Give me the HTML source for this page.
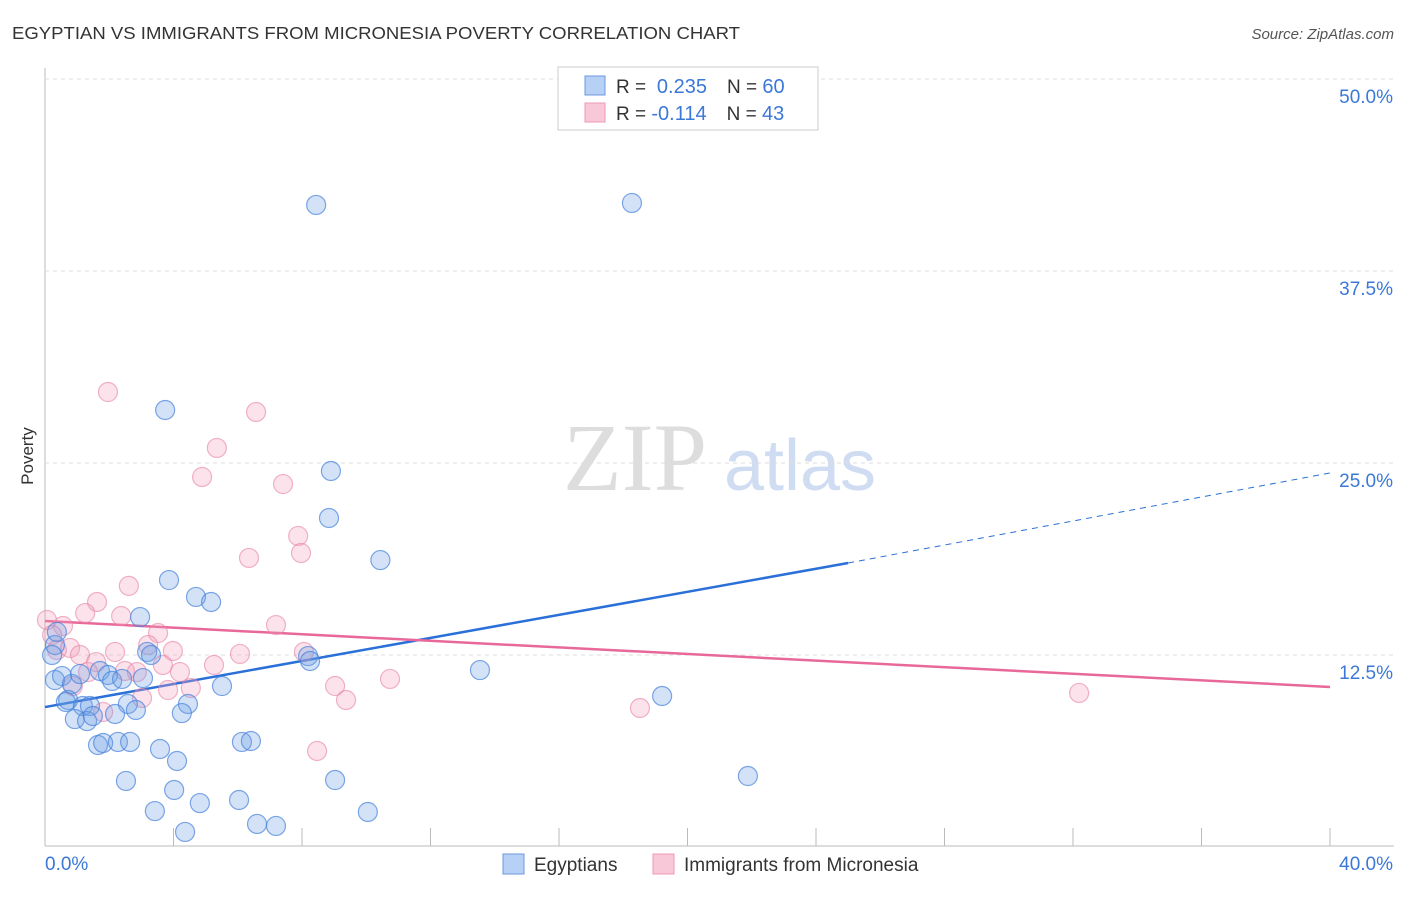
<!DOCTYPE html>
<html><head><meta charset="utf-8"><style>
body{margin:0;background:#fff;font-family:"Liberation Sans",sans-serif}
svg text{font-family:"Liberation Sans",sans-serif}
</style></head><body>
<svg id="chart" width="1406" height="892">
<text x="12" y="39" font-size="17.5" fill="#333" textLength="728" lengthAdjust="spacingAndGlyphs">EGYPTIAN VS IMMIGRANTS FROM MICRONESIA POVERTY CORRELATION CHART</text>
<text x="1394" y="39" font-size="15" fill="#555" font-style="italic" text-anchor="end">Source: ZipAtlas.com</text>
<text x="33" y="456" font-size="17" fill="#333" transform="rotate(-90 33 456)" text-anchor="middle">Poverty</text>
<g><text x="635" y="490" font-size="96" font-family="Liberation Serif" fill="#ddd" text-anchor="middle" style="font-family:'Liberation Serif',serif">ZIP</text><text x="800" y="490" font-size="72" fill="#cfdcf2" text-anchor="middle">atlas</text></g>
<g id="grid"></g><g id="trend"></g><g id="pts"></g>
<g>
<rect x="558" y="67" width="260" height="63" fill="#fff" stroke="#ccc"/>
<rect x="585" y="76" width="20" height="19" fill="#b7d0f5" stroke="#6b9ae0"/>
<rect x="585" y="103" width="20" height="19" fill="#f8c8d8" stroke="#ee9ab6"/>
<text x="616" y="93" font-size="19" fill="#333">R = <tspan fill="#3b78d8" font-size="20">&#160;0.235</tspan><tspan dx="20">N = </tspan><tspan fill="#3b78d8" font-size="20">60</tspan></text>
<text x="616" y="120" font-size="19" fill="#333">R = <tspan fill="#3b78d8" font-size="20">-0.114</tspan><tspan dx="20">N = </tspan><tspan fill="#3b78d8" font-size="20">43</tspan></text>
</g>
<g>
<rect x="503" y="854" width="21" height="20" fill="#b7d0f5" stroke="#6b9ae0"/>
<text x="534" y="871" font-size="19" fill="#333">Egyptians</text>
<rect x="653" y="854" width="21" height="20" fill="#f8c8d8" stroke="#ee9ab6"/>
<text x="684" y="871" font-size="19" fill="#333">Immigrants from Micronesia</text>
</g>
</svg>
<script>
const xTicks=[0,4,8,12,16,20,24,28,32,36,40];
const yTicks=[12.5,25,37.5,50];
const yTickLabels=["12.5%","25.0%","37.5%","50.0%"];
const blueX=[8.44,18.27,3.74,8.90,8.84,10.44,3.86,4.70,5.17,2.96,0.31,0.37,3.18,3.30,8.19,8.25,13.54,0.31,0.53,0.84,1.09,1.71,1.96,2.09,2.40,3.05,5.51,19.21,0.72,0.65,1.18,1.40,2.58,2.83,4.45,4.26,2.18,0.93,1.31,1.49,1.65,1.81,2.27,2.65,3.58,6.13,6.41,4.11,2.52,9.03,21.88,4.02,6.04,3.42,4.82,10.05,6.60,7.19,4.36,0.22];
const blueY=[41.80,41.93,28.45,24.48,21.42,18.68,17.38,16.28,15.95,14.97,13.15,14.00,12.70,12.50,12.43,12.11,11.52,10.87,11.13,10.61,11.26,11.46,11.20,10.81,10.94,11.00,10.48,9.83,9.57,9.44,9.18,9.18,9.31,8.92,9.31,8.72,8.66,8.33,8.20,8.53,6.64,6.77,6.84,6.84,6.38,6.84,6.90,5.60,4.30,4.36,4.62,3.71,3.06,2.34,2.86,2.28,1.50,1.37,0.98,12.50];
const pinkX=[1.96,6.57,5.35,4.89,7.41,7.88,7.97,6.35,2.61,1.62,1.25,2.37,0.06,0.56,3.52,7.19,0.22,3.21,0.37,0.78,1.09,2.18,3.98,6.07,8.06,1.59,2.49,2.86,3.67,4.20,5.26,10.74,1.34,0.87,3.83,4.54,9.03,9.37,32.19,18.52,1.81,3.02,8.47];
const pinkY=[29.62,28.32,25.98,24.09,23.63,20.25,19.14,18.82,17.0,15.95,15.23,15.04,14.78,14.39,13.93,14.45,13.80,13.15,12.83,12.96,12.50,12.70,12.76,12.57,12.70,12.04,11.46,11.39,11.85,11.39,11.85,10.94,11.39,10.48,10.22,10.35,10.48,9.57,10.03,9.05,8.79,9.70,6.25];
const blueTrend=[9.11,18.49,24.35]; // at x=0, 25, 40
const pinkTrend=[14.71,10.42]; // at x=0, 40
const NS="http://www.w3.org/2000/svg";
const X=v=>45+v*32.125, Y=v=>847-v*15.36;
function mk(tag,attrs,parent){const e=document.createElementNS(NS,tag);for(const k in attrs)e.setAttribute(k,attrs[k]);parent.appendChild(e);return e;}
const grid=document.getElementById('grid');
const ax=mk('line',{x1:45,y1:68,x2:45,y2:846,stroke:'#bbb'},grid);


const bx=mk('line',{x1:45,y1:846,x2:1394,y2:846,stroke:'#bbb'},grid);


yTicks.forEach((t,i)=>{
  const g=mk('line',{x1:45,y1:Y(t),x2:1394,y2:Y(t),stroke:'#ddd','stroke-dasharray':'4,4'},grid);
  
  
  const tx=mk('text',{x:1393,y:Y(t)+24,'font-size':19,fill:'#3b78d8','text-anchor':'end'},grid);
  tx.textContent=yTickLabels[i];
  
  
});
xTicks.forEach(t=>{
  const l=mk('line',{x1:X(t),y1:828,x2:X(t),y2:846,stroke:'#bbb'},grid);
  
  
});
const xl0=mk('text',{x:45,y:870,'font-size':19,fill:'#3b78d8'},grid);xl0.textContent='0.0%';


const xl1=mk('text',{x:1393,y:870,'font-size':19,fill:'#3b78d8','text-anchor':'end'},grid);xl1.textContent='40.0%';


const pts=document.getElementById('pts');
pinkX.forEach((x,i)=>{const c=mk('circle',{cx:X(x),cy:Y(pinkY[i]),r:9.5,fill:'rgba(242,160,190,0.3)',stroke:'rgba(232,130,165,0.6)','stroke-width':1.2},pts);

});
blueX.forEach((x,i)=>{const c=mk('circle',{cx:X(x),cy:Y(blueY[i]),r:9.5,fill:'rgba(110,160,230,0.3)',stroke:'rgba(70,130,220,0.7)','stroke-width':1.2},pts);

});
const tr=document.getElementById('trend');
const b1=mk('line',{x1:X(0),y1:Y(blueTrend[0]),x2:X(25),y2:Y(blueTrend[1]),stroke:'#2a70d8','stroke-width':2.5},tr);


const b2=mk('line',{x1:X(25),y1:Y(blueTrend[1]),x2:X(40),y2:Y(blueTrend[2]),stroke:'#2a70d8','stroke-width':1,'stroke-dasharray':'6,5'},tr);


const p1=mk('line',{x1:X(0),y1:Y(pinkTrend[0]),x2:X(40),y2:Y(pinkTrend[1]),stroke:'#e8689a','stroke-width':2.5},tr);


</script>
</body></html>
